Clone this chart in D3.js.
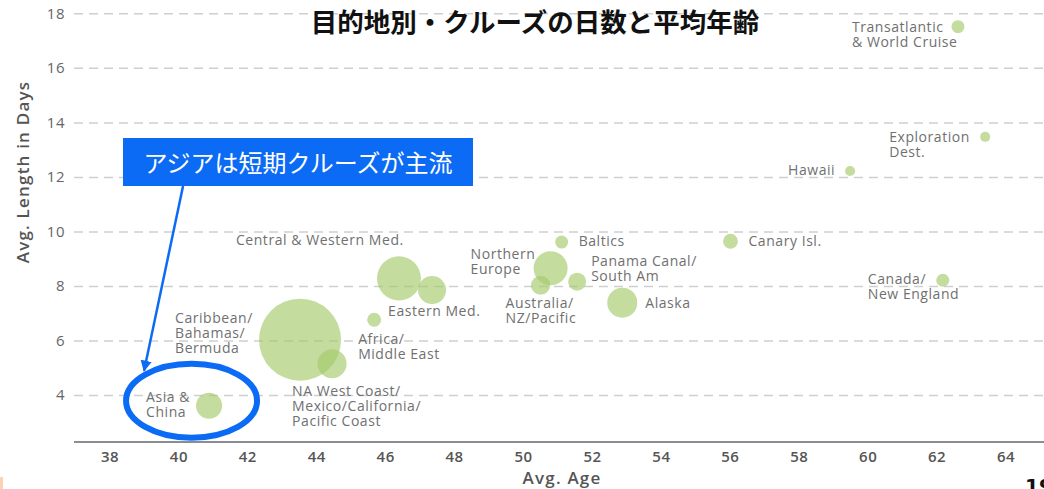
<!DOCTYPE html>
<html>
<head>
<meta charset="utf-8">
<script src="https://cdn.jsdelivr.net/npm/d3@7"></script>
<style>
  body { margin: 0; background: #fff; overflow: hidden; }
  #plot { width: 1044px; height: 489px; }
</style>
</head>
<body>
<div id="plot"></div>
<script>
// data
var destinations = ['Asia & China', 'Caribbean/Bahamas/Bermuda', 'NA West Coast', 'Africa/Middle East',
  'Central & Western Med.', 'Eastern Med.', 'Northern Europe', 'Australia/NZ/Pacific',
  'Panama Canal/South Am', 'Baltics', 'Alaska', 'Canary Isl.', 'Transatlantic & World Cruise',
  'Exploration Dest.', 'Hawaii', 'Canada/New England'];
var avgAge  = [40.89, 43.53, 44.46, 45.68, 46.40, 47.36, 50.80, 50.51, 51.57, 51.12, 52.88, 56.02, 62.62, 63.41, 59.49, 62.18];
var avgDays = [3.61, 6.03, 5.15, 6.76, 8.28, 7.85, 8.65, 8.03, 8.16, 9.61, 7.39, 9.64, 17.51, 13.47, 12.22, 8.21];
var bubbleSize = [10.1, 100, 12.5, 2.9, 28.8, 11.7, 17.2, 5.4, 4.8, 2.5, 13.4, 3.3, 2.5, 1.5, 1.5, 2.5];
var labelLines = [
  ['Asia &', 'China'], ['Caribbean/', 'Bahamas/', 'Bermuda'],
  ['NA West Coast/', 'Mexico/California/', 'Pacific Coast'], ['Africa/', 'Middle East'],
  ['Central & Western Med.'], ['Eastern Med.'], ['Northern', 'Europe'], ['Australia/', 'NZ/Pacific'],
  ['Panama Canal/', 'South Am'], ['Baltics'], ['Alaska'], ['Canary Isl.'],
  ['Transatlantic', '& World Cruise'], ['Exploration', 'Dest.'], ['Hawaii'], ['Canada/', 'New England']];

var xTicks = [38, 40, 42, 44, 46, 48, 50, 52, 54, 56, 58, 60, 62, 64];
var yTicks = [4, 6, 8, 10, 12, 14, 16, 18];

var title = '目的地別・クルーズの日数と平均年齢';
var callout = 'アジアは短期クルーズが主流';

// label placement relative to bubble centre (px)
var labelOffset = [
  [-63, -4], [-125, -17], [-40, 32], [-16, 24], [-163, -33], [-44, 26], [-80, -9], [-35, 23],
  [14, -16], [17, 4], [23, 5], [18, 5], [-106, 5], [-96, 5], [-62, 4], [-75, 4]];

var W = 1044, H = 489;
var left = 74, axisY = 442;

var svg = d3.select('#plot').append('svg')
  .attr('width', W).attr('height', H);

var x = d3.scaleLinear().domain([37, 65]).range([75, 1040]);
var y = d3.scaleLinear().domain([2.28, 18]).range([axisY, 13.3]);
var r = d3.scaleSqrt().domain([0, 100]).range([0, 41]);

var tickFont = '"Open Sans", sans-serif';

// y grid + labels
var yAxis = svg.append('g')
  .attr('transform', 'translate(' + left + ',0)')
  .call(d3.axisLeft(y).tickValues(yTicks).tickSize(-(W - left)).tickPadding(9));
yAxis.select('.domain').remove();
yAxis.selectAll('line')
  .attr('stroke', '#cfcfcf').attr('stroke-width', 1.5).attr('stroke-dasharray', '9,6');
yAxis.selectAll('text')
  .attr('fill', '#666').style('font-family', tickFont).style('font-size', '15px').style('letter-spacing', '0.5px');

// x axis
var xAxis = svg.append('g')
  .attr('transform', 'translate(0,' + axisY + ')')
  .call(d3.axisBottom(x).tickValues(xTicks).tickSize(0).tickPadding(9));
xAxis.select('.domain').remove();
xAxis.selectAll('text')
  .attr('fill', '#555').style('font-family', tickFont).style('font-size', '15px').style('font-weight', 600)
  .style('letter-spacing', '0.5px');
svg.append('line')
  .attr('x1', left).attr('x2', W).attr('y1', axisY).attr('y2', axisY)
  .attr('stroke', '#8a8d91').attr('stroke-width', 2);

// axis titles
svg.append('text')
  .attr('x', 562).attr('y', 484).attr('text-anchor', 'middle')
  .attr('fill', '#555').style('font-family', tickFont).style('font-size', '17px').style('font-weight', 600)
  .style('letter-spacing', '1.2px')
  .text('Avg. Age');
svg.append('text')
  .attr('transform', 'translate(29,172) rotate(-90)').attr('text-anchor', 'middle')
  .attr('fill', '#555').style('font-family', tickFont).style('font-size', '17px').style('font-weight', 600)
  .style('letter-spacing', '1.2px')
  .text('Avg. Length in Days');

// bubbles
var points = destinations.map(function (d, i) {
  return { name: d, age: avgAge[i], days: avgDays[i], size: bubbleSize[i], lines: labelLines[i], off: labelOffset[i] };
});

svg.append('g').selectAll('circle')
  .data(points.slice().sort(function (a, b) { return b.size - a.size; }))
  .enter().append('circle')
  .attr('cx', function (d) { return x(d.age); })
  .attr('cy', function (d) { return y(d.days); })
  .attr('r', function (d) { return r(d.size); })
  .attr('fill', 'rgb(165,202,106)')
  .attr('fill-opacity', 0.65);

var labels = svg.append('g').selectAll('text')
  .data(points).enter().append('text')
  .attr('fill', '#707070')
  .style('font-family', tickFont).style('font-size', '14px').style('letter-spacing', '0.55px')
  .attr('x', function (d) { return x(d.age) + d.off[0]; })
  .attr('y', function (d) { return y(d.days) + d.off[1]; });
labels.selectAll('tspan')
  .data(function (d) { return d.lines.map(function (l) { return { t: l, x: x(d.age) + d.off[0] }; }); })
  .enter().append('tspan')
  .attr('x', function (d) { return d.x; })
  .attr('dy', function (d, i) { return i === 0 ? 0 : 15; })
  .text(function (d) { return d.t; });

// title
svg.append('text')
  .attr('x', 535).attr('y', 32).attr('text-anchor', 'middle')
  .attr('fill', '#111')
  .style('font-family', '"Noto Sans CJK JP", sans-serif').style('font-size', '26.5px').style('font-weight', 700)
  .text(title);

// annotation around Asia
var blue = '#0b6bf5';
var asia = points[0];
var ax = x(asia.age), ay = y(asia.days);

svg.append('ellipse')
  .attr('cx', ax - 17.5).attr('cy', ay - 5)
  .attr('rx', 65.5).attr('ry', 37)
  .attr('fill', 'none').attr('stroke', blue).attr('stroke-width', 6);

svg.append('defs').append('marker')
  .attr('id', 'head').attr('viewBox', '0 0 10 10')
  .attr('refX', 9).attr('refY', 5)
  .attr('markerWidth', 4.5).attr('markerHeight', 4.5)
  .attr('orient', 'auto')
  .append('path').attr('d', 'M0,0L10,5L0,10z').attr('fill', blue);

svg.append('line')
  .attr('x1', ax - 26).attr('y1', 186)
  .attr('x2', ax - 65).attr('y2', ay - 35)
  .attr('stroke', blue).attr('stroke-width', 2.5)
  .attr('marker-end', 'url(#head)');

svg.append('rect')
  .attr('x', 123).attr('y', 138).attr('width', 350).attr('height', 48)
  .attr('fill', blue);
svg.append('text')
  .attr('x', 298).attr('y', 172).attr('text-anchor', 'middle')
  .attr('fill', '#fff')
  .style('font-family', '"Noto Sans CJK JP", sans-serif').style('font-size', '24px').style('font-weight', 400)
  .text(callout);

// slide leftovers: page number and corner mark
svg.append('rect').attr('x', 0).attr('y', 477).attr('width', 3).attr('height', 12).attr('fill', '#fdd2b4');
svg.append('text')
  .attr('x', 1025).attr('y', 493)
  .attr('fill', '#111').style('font-family', '"DejaVu Sans", sans-serif').style('font-size', '20px').style('font-weight', 700)
  .text('19');
</script>
</body>
</html>
